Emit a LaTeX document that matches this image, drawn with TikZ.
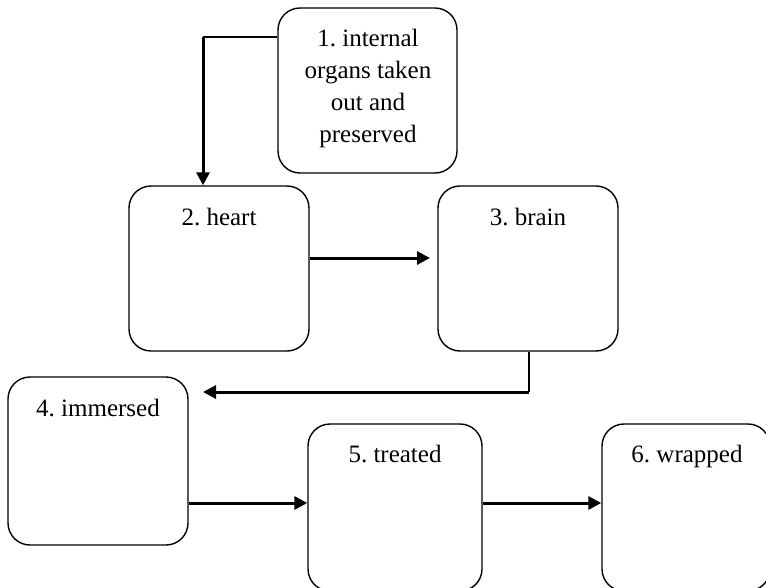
\documentclass[tikz,border=0pt]{standalone}
\usepackage{fontspec}
\setmainfont{Liberation Serif}
\usetikzlibrary{arrows.meta}
\begin{document}
\frenchspacing
\begin{tikzpicture}[x=1pt,y=-1pt,
  box/.style={draw, line width=1.4pt, rounded corners=22pt, inner sep=0pt},
  lbl/.style={font=\fontsize{25}{31.7}\selectfont, align=center, inner sep=0pt, anchor=base},
  arr/.style={line width=3pt, -{Triangle[length=13pt,width=13pt]}},
  thinline/.style={line width=1.4pt}]
\useasboundingbox (0,0) rectangle (766,587);
\clip (0,0) rectangle (766,587);
% boxes
\node[box, minimum width=179pt, minimum height=165pt] (b1) at (367.5,90.5) {};
\node[box, minimum width=180pt, minimum height=165pt] (b2) at (219,268.5) {};
\node[box, minimum width=180pt, minimum height=165pt] (b3) at (528,268.5) {};
\node[box, minimum width=180pt, minimum height=168pt] (b4) at (98,461) {};
\node[box, minimum width=174pt, minimum height=167pt] (b5) at (395,507.5) {};
\node[box, minimum width=168pt, minimum height=167pt] (b6) at (686,507.5) {};
% labels
\node[lbl] (t1) at (368,142) {1. internal\\organs taken\\out and\\preserved};
\node[lbl] (t2) at (219,225) {2. heart};
\node[lbl] (t3) at (528,225) {3. brain};
\node[lbl] (t4) at (98,416) {4. immersed};
\node[lbl] (t5) at (395,462) {5. treated};
\node[lbl] (t6) at (687,462) {6. wrapped};
% connectors
\coordinate (c1) at (203,37);
\draw[thinline] (b1.west |- c1) -- (c1);
\draw[arr] (c1) -- (b2.north -| c1);
\coordinate (e23) at (430,258);
\draw[arr] (b2.east |- e23) -- (e23);
\coordinate (c3) at (529,392);
\coordinate (e34) at (203,392);
\draw[thinline] (b3.south -| c3) -- (c3);
\draw[arr] (c3) -- (e34);
\coordinate (y45) at (0,503);
\draw[arr] (b4.east |- y45) -- (b5.west |- y45);
\draw[arr] (b5.east |- y45) -- (b6.west |- y45);
\end{tikzpicture}
\end{document}
